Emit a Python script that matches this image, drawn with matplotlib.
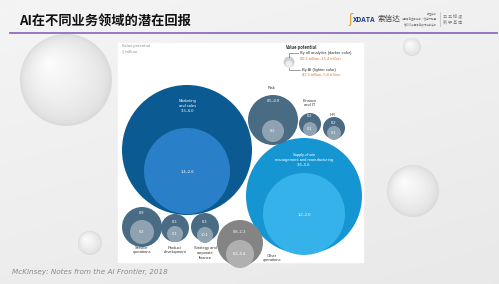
"""
plot.py -- McKinsey bubble chart of AI value potential by business area,
redrawn as a slide (title, logos, source line).
"""

import numpy as np
import matplotlib
matplotlib.use("Agg")
import matplotlib.pyplot as plt
from matplotlib.patches import Circle, Rectangle

plt.rcParams["font.family"] = ["Noto Sans CJK SC", "DejaVu Sans"]

# --- data ----------------------------------------------------------------------
areas = ["Marketing\nand sales", "Supply-chain\nmanagement and manufacturing",
         "Risk", "Finance\nand IT", "HR", "Service\noperations",
         "Product\ndevelopment", "Strategy and\ncorporate\nfinance",
         "Other\noperations"]
all_analytics = ["3.3–6.0", "3.6–5.6", "0.5–0.9", "0.2", "0.2", "0.9",
                 "0.3", "0.3", "0.8–1.3"]
by_ai = ["1.4–2.6", "1.2–2.0", "0.2", "0.1", "0.1", "0.2", "0.1", "<0.1",
         "0.2–0.4"]
total_all = "$9.5 trillion–15.4 trillion"
total_ai = "$3.5 trillion–5.8 trillion"

# --- layout (pixel space of the 499x284 slide) -----------------------------------
# centre x, centre y, radius of outer circle; inner circle centre y, radius
outer_xy = [(187, 150), (304, 196), (273, 120), (310, 124), (334, 128),
            (142, 227), (175, 228), (205, 227), (240, 243)]
outer_r = [65, 58, 25, 11, 11, 20, 14, 14, 23]
inner_y = [171, 214, 131, 129, 133, 232, 234, 235, 254]
inner_r = [43, 41, 11, 7, 7, 12, 8, 8, 14]
label_xy = [(188, 106), (304, 160), (272, 88), (310, 103), (333, 115),
            (142, 250), (175, 250), (205, 253), (272, 258)]
outer_txt_y = [121, 172, 101, 116, 123, 213, 222, 222, 232]
outer_col = ["#0b5a92", "#1596d3", "#4a6b84", "#4a6b84", "#4a6b84",
             "#4a6b84", "#4a6b84", "#4a6b84", "#848484"]
inner_col = ["#2a80c8", "#36b2ea", "#8ea2b2", "#8ea2b2", "#8ea2b2",
             "#8ea2b2", "#8ea2b2", "#8ea2b2", "#b0b0b0"]
label_inside = [True, True, False, False, False, False, False, False, False]

W, H = 499, 284
fig = plt.figure(figsize=(W / 100, H / 100), dpi=100)
ax = fig.add_axes([0, 0, 1, 1])
ax.set_xlim(0, W)
ax.set_ylim(H, 0)
ax.axis("off")

# slide background: soft grey gradient
gx = np.linspace(0, 1, 256)
bg = 0.955 - 0.03 * np.outer(gx, np.ones(256)) - 0.015 * np.outer(np.ones(256), gx)
ax.imshow(bg, extent=(0, W, H, 0), cmap="gray", vmin=0, vmax=1, zorder=0,
          aspect="auto")

# faint shaded spheres (greyer rim on the right, light top-left highlight)
for cx, cy, r in [(66, 80, 46), (90, 243, 12), (413, 191, 26), (412, 47, 9)]:
    n = 24
    for k in range(n):
        f = 1 - k / n
        shade = 0.86 + 0.13 * (1 - f) ** 0.6
        off = r * 0.4 * (1 - f)
        ax.add_patch(Circle((cx - off, cy - off), r * f, color=str(shade),
                            lw=0, zorder=1))

# title, underline, logos
ax.text(19, 21, "AI在不同业务领域的潜在回报", fontsize=9.5, fontweight="bold",
        color="#111111", va="center", zorder=5)
ax.plot([10, 497], [33, 33], color="#8e6cc0", lw=1.3, zorder=5)
ax.text(348, 19, "ʃ", fontsize=9, color="#e0a020", va="center", zorder=5)
ax.text(353, 19, "XDATA", fontsize=5, color="#1a3c8c", va="center",
        fontweight="bold", zorder=5)
ax.text(378, 19, "索信达", fontsize=5.5, color="#444444", va="center", zorder=5)
ax.text(437, 19, "最佳实践\n中国零售金融创新·信用卡联盟\n第2021中国零售银行创新实践",
        fontsize=1.8, color="#777777", ha="right", va="center", zorder=5,
        linespacing=1.3)
ax.plot([440, 440], [12, 26], color="#bbbbbb", lw=0.5, zorder=5)
ax.text(443, 19, "五 五 描 漫\n数 字 基 建", fontsize=3, color="#888888",
        va="center", zorder=5, linespacing=1.4)

# chart panel
ax.add_patch(Rectangle((118, 43), 245, 219, color="white", zorder=2))
ax.text(122, 44, "Value potential\n$ trillion", fontsize=2.8, color="#888888",
        va="top", zorder=6, linespacing=1.3)

small = dict(fontsize=2.9, ha="center", va="center", zorder=6,
             family="Liberation Sans", linespacing=1.2)
for i, name in enumerate(areas):
    cx, cy = outer_xy[i]
    ax.add_patch(Circle((cx, cy), outer_r[i], color=outer_col[i], lw=0, zorder=3))
    ax.add_patch(Circle((cx, inner_y[i]), inner_r[i], color=inner_col[i], lw=0,
                        zorder=4))
    lx, ly = label_xy[i]
    if label_inside[i]:
        ax.text(lx, ly, f"{name}\n{all_analytics[i]}", color="white", **small)
    else:
        ax.text(lx, ly, name, color="#333333", **small)
        ax.text(cx, outer_txt_y[i], all_analytics[i], color="white", **small)
    ax.text(cx, inner_y[i] + (1 if i < 2 else 0), by_ai[i], color="white", **small)

# legend
ax.text(285, 47, "Value potential", fontsize=3, color="#333333",
        fontweight="bold", va="center", zorder=6)
ax.add_patch(Circle((289, 62), 5.5, color="#d0d0d0", lw=0, zorder=5))
ax.add_patch(Circle((289, 64), 3.5, color="#ececec", lw=0, zorder=6))
ax.plot([289, 289, 298], [56.5, 53, 53], color="#555555", lw=0.4, zorder=6)
ax.plot([289, 289, 300], [67.5, 70, 70], color="#555555", lw=0.4, zorder=6)
ax.text(300, 53, "By all analytics (darker color)", fontsize=2.9,
        color="#333333", va="center", zorder=6, family="Liberation Sans")
ax.text(300, 58, total_all, fontsize=2.9, color="#e07b39", va="center",
        zorder=6, family="Liberation Sans")
ax.text(302, 70, "By AI (lighter color)", fontsize=2.9, color="#333333",
        va="center", zorder=6, family="Liberation Sans")
ax.text(302, 75, total_ai, fontsize=2.9, color="#e07b39", va="center",
        zorder=6, family="Liberation Sans")

# source line
ax.text(12, 272, "McKinsey: Notes from the AI Frontier, 2018", fontsize=5.2,
        style="italic", color="#8a8a8a", va="center", zorder=6,
        family="DejaVu Sans")

fig.savefig("out.png", dpi=100)
